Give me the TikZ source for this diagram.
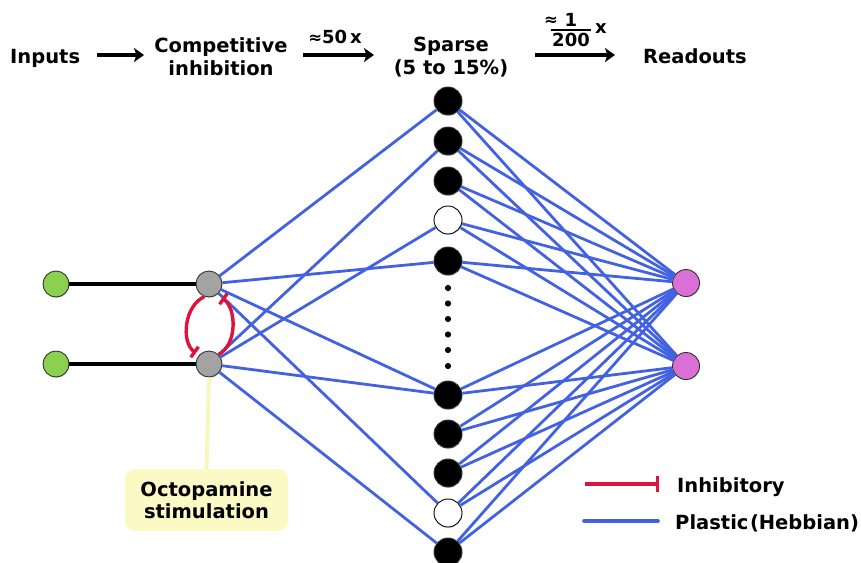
\documentclass[tikz,border=0pt]{standalone}
\usepackage{fontspec}
\setmainfont{DejaVu Sans}
\usetikzlibrary{arrows.meta,shadows,calc}
\definecolor{hblue}{RGB}{66,98,226}
\definecolor{inhred}{RGB}{220,20,60}
\definecolor{ngreen}{RGB}{140,208,80}
\definecolor{ngray}{RGB}{163,163,163}
\definecolor{npink}{RGB}{218,112,214}
\definecolor{oyel}{RGB}{252,250,196}
\definecolor{oline}{RGB}{250,247,190}
\begin{document}
\begin{tikzpicture}[x=1pt,y=-1pt,
  txt/.style={font=\fontsize{19.5}{23}\selectfont\bfseries, inner sep=0pt, align=center},
  lbl/.style={font=\fontsize{18}{20}\selectfont\bfseries, inner sep=0pt},
  apx/.style={font=\fontsize{16.5}{18}\selectfont\bfseries, inner sep=0pt},
  cell/.style={circle, inner sep=0pt, minimum size=26pt, draw=black!80, line width=0.9pt,
    drop shadow={shadow xshift=0.6pt, shadow yshift=-0.9pt, opacity=0.3}},
  inp/.style={cell, fill=ngreen},
  gcell/.style={cell, fill=ngray},
  outn/.style={cell, fill=npink, minimum size=27pt},
  kc/.style={cell, fill=black, minimum size=28pt},
  kcoff/.style={cell, fill=white, draw=black, minimum size=28pt},
  hebb/.style={draw=hblue, line width=2.8pt},
  axon/.style={draw=black, line width=3.2pt},
  inhib/.style={draw=inhred, line width=3.4pt, -{Bar[width=13pt]}},
  flow/.style={draw=black, line width=3.4pt, -{Stealth[length=10pt,width=14pt,inset=2.5pt]}},
  octo/.style={fill=oyel, rounded corners=10pt, minimum width=163pt, minimum height=62pt,
    inner sep=0pt, align=center, font=\fontsize{19.5}{22}\selectfont\bfseries}
]
\useasboundingbox (0,0) rectangle (861,562);

% ---- header ----
\node[txt, anchor=base west] (inputs) at (10,63) {Inputs};
\node[txt] (comp) at (221,57) {Competitive\\inhibition};
\node[txt] (sparse) at (451,57) {Sparse\\(5 to 15\%)};
\node[txt, anchor=base] (readouts) at (695,63) {Readouts};

\coordinate (f1a) at (97,55);  \coordinate (f1b) at (144,55);
\coordinate (f2a) at (303,55); \coordinate (f2b) at (374,55);
\coordinate (f3a) at (535,55); \coordinate (f3b) at (615,55);
\draw[flow] (f1a) -- (f1b);
\draw[flow] (f2a) -- (f2b);
\draw[flow] (f3a) -- (f3b);

\node[lbl, anchor=base] (fifty) at (335,43) {{\fontsize{16.5}{18}\selectfont ≈}50\,x};
\node[apx, anchor=base] (apxb) at (551,25) {≈};
\node[lbl, anchor=base] (one) at (571,26) {1};
\node[lbl, anchor=base] (twoh) at (571,46) {200};
\coordinate (fbara) at (551,30); \coordinate (fbarb) at (591,30);
\draw[line width=2.4pt] (fbara) -- (fbarb);
\node[lbl, anchor=base] (xx) at (601,33) {x};

% ---- octopamine ----
\node[octo] (octo) at (206.5,500) {Octopamine\\stimulation};

% ---- neurons ----
\node[inp] (i1) at (56,284) {};
\node[inp] (i2) at (56,364) {};
\node[gcell] (g1) at (209,284) {};
\node[gcell] (g2) at (209,364) {};
\draw[line width=4pt, draw=oline] (g2.south) -- (octo.north);

\foreach \y/\n/\s in {101/s1/kc,141/s2/kc,181/s3/kc,220/s4/kcoff,261/s5/kc,
                      395/s6/kc,434/s7/kc,473/s8/kc,513/s9/kcoff,552/s10/kc}
  \node[\s] (\n) at (448,\y) {};
\foreach \y [count=\k] in {288,303.5,319,334.5,350,366}
  \fill (448,\y) circle (3.1);

\node[outn] (r1) at (686,283) {};
\node[outn] (r2) at (686,366) {};

% ---- connections ----
\draw[axon] (i1) -- (g1);
\draw[axon] (i2) -- (g2);

\foreach \s in {s1,s5,s6,s9} \draw[hebb] (g1) -- (\s);
\foreach \s in {s2,s4,s6,s10} \draw[hebb] (g2) -- (\s);
\foreach \s in {s1,s2,s3,s4,s5,s6,s7,s8,s9,s10} {
  \draw[hebb] (\s) -- (r1);
  \draw[hebb] (\s) -- (r2);
}

\draw[inhib] (g1.250) .. controls (184,306) and (181,342) .. ($(g2)+(-13,-11)$);
\draw[inhib] (g2.45) .. controls (238,344) and (236,308) .. ($(g1)+(13,14)$);

% ---- legend ----
\coordinate (l1a) at (585,484); \coordinate (l1b) at (659,484);
\coordinate (l2a) at (584,521); \coordinate (l2b) at (658,521);
\draw[inhib, -{Bar[width=16pt]}] (l1a) -- (l1b);
\draw[hebb, line width=3.6pt, line cap=round] (l2a) -- (l2b);
\node[txt, anchor=base west] (linh) at (677,492) {Inhibitory};
\node[txt, anchor=base west] (lheb) at (675,529) {Plastic\kern1.5pt(Hebbian)};
\end{tikzpicture}
\end{document}
